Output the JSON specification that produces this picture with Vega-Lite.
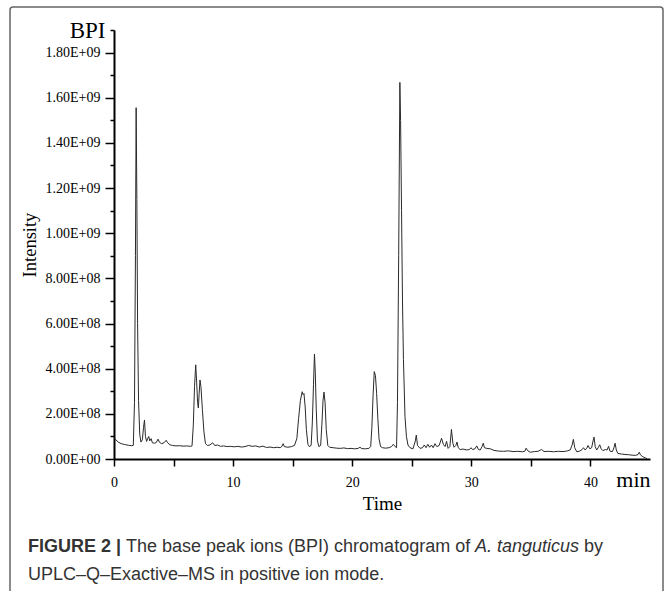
{
  "$schema": "https://vega.github.io/schema/vega-lite/v6.json",
  "width": 536,
  "height": 429,
  "autosize": {"type": "none"},
  "padding": {"left": 114, "top": 30, "right": 18, "bottom": 132},
  "background": "white",
  "config": {"view": {"stroke": null}},
  "layer": [
    {
      "data": {"values": [{}]},
      "mark": {"type": "rect", "fill": null, "stroke": "#666666", "strokeWidth": 1.5, "cornerRadius": 3},
      "encoding": {"x": {"value": -104}, "x2": {"value": 549}, "y": {"value": -23}, "y2": {"value": 640}}
    },
    {
      "data": {"values": [
        {"t":0.0,"i":0.95e8},{"t":0.15,"i":0.85e8},{"t":0.35,"i":0.75e8},{"t":0.6,"i":0.68e8},{"t":0.9,"i":0.64e8},
        {"t":1.2,"i":0.61e8},{"t":1.45,"i":0.59e8},{"t":1.62,"i":0.6e8},{"t":1.72,"i":2.5e8},{"t":1.8,"i":9.0e8},
        {"t":1.86,"i":15.56e8},{"t":1.92,"i":11.5e8},{"t":1.98,"i":6.0e8},{"t":2.06,"i":2.6e8},{"t":2.16,"i":1.1e8},
        {"t":2.26,"i":0.75e8},{"t":2.38,"i":0.85e8},{"t":2.48,"i":1.4e8},{"t":2.56,"i":1.73e8},{"t":2.64,"i":1.0e8},
        {"t":2.74,"i":0.78e8},{"t":2.84,"i":0.92e8},{"t":2.92,"i":1.0e8},{"t":3.0,"i":0.8e8},{"t":3.12,"i":0.9e8},
        {"t":3.22,"i":0.72e8},{"t":3.4,"i":0.7e8},{"t":3.55,"i":0.73e8},{"t":3.7,"i":0.88e8},{"t":3.82,"i":0.74e8},
        {"t":4.0,"i":0.68e8},{"t":4.2,"i":0.72e8},{"t":4.38,"i":0.83e8},{"t":4.5,"i":0.72e8},{"t":4.7,"i":0.63e8},
        {"t":4.9,"i":0.6e8},{"t":5.2,"i":0.58e8},{"t":5.5,"i":0.59e8},{"t":5.8,"i":0.57e8},{"t":6.1,"i":0.58e8},
        {"t":6.4,"i":0.56e8},{"t":6.55,"i":0.58e8},{"t":6.66,"i":1.5e8},{"t":6.76,"i":3.2e8},{"t":6.86,"i":4.17e8},
        {"t":6.94,"i":3.4e8},{"t":7.02,"i":2.5e8},{"t":7.08,"i":2.26e8},{"t":7.15,"i":2.9e8},{"t":7.22,"i":3.5e8},
        {"t":7.3,"i":3.2e8},{"t":7.42,"i":2.2e8},{"t":7.55,"i":1.2e8},{"t":7.68,"i":0.68e8},{"t":7.85,"i":0.6e8},
        {"t":8.05,"i":0.62e8},{"t":8.28,"i":0.72e8},{"t":8.45,"i":0.6e8},{"t":8.7,"i":0.62e8},{"t":8.95,"i":0.56e8},
        {"t":9.2,"i":0.58e8},{"t":9.5,"i":0.55e8},{"t":9.8,"i":0.56e8},{"t":10.1,"i":0.54e8},{"t":10.4,"i":0.56e8},
        {"t":10.7,"i":0.53e8},{"t":11.0,"i":0.55e8},{"t":11.3,"i":0.6e8},{"t":11.6,"i":0.56e8},{"t":11.9,"i":0.58e8},
        {"t":12.2,"i":0.53e8},{"t":12.5,"i":0.57e8},{"t":12.8,"i":0.51e8},{"t":13.1,"i":0.53e8},{"t":13.4,"i":0.5e8},
        {"t":13.7,"i":0.52e8},{"t":13.95,"i":0.5e8},{"t":14.1,"i":0.56e8},{"t":14.2,"i":0.68e8},{"t":14.3,"i":0.55e8},
        {"t":14.6,"i":0.52e8},{"t":14.9,"i":0.55e8},{"t":15.15,"i":0.6e8},{"t":15.35,"i":0.9e8},{"t":15.5,"i":1.8e8},
        {"t":15.65,"i":2.6e8},{"t":15.8,"i":2.98e8},{"t":15.88,"i":2.85e8},{"t":15.95,"i":2.9e8},{"t":16.05,"i":2.3e8},
        {"t":16.15,"i":1.3e8},{"t":16.28,"i":0.65e8},{"t":16.4,"i":0.55e8},{"t":16.55,"i":0.6e8},{"t":16.65,"i":1.6e8},
        {"t":16.75,"i":3.3e8},{"t":16.83,"i":4.65e8},{"t":16.9,"i":3.8e8},{"t":16.98,"i":2.2e8},{"t":17.08,"i":0.8e8},
        {"t":17.2,"i":0.55e8},{"t":17.35,"i":0.6e8},{"t":17.45,"i":1.5e8},{"t":17.55,"i":2.6e8},{"t":17.63,"i":2.96e8},
        {"t":17.72,"i":2.5e8},{"t":17.82,"i":1.3e8},{"t":17.95,"i":0.6e8},{"t":18.1,"i":0.52e8},{"t":18.4,"i":0.5e8},
        {"t":18.7,"i":0.48e8},{"t":19.0,"i":0.47e8},{"t":19.3,"i":0.49e8},{"t":19.6,"i":0.46e8},{"t":19.9,"i":0.47e8},
        {"t":20.2,"i":0.45e8},{"t":20.5,"i":0.47e8},{"t":20.65,"i":0.52e8},{"t":20.8,"i":0.46e8},{"t":21.1,"i":0.45e8},
        {"t":21.4,"i":0.47e8},{"t":21.55,"i":0.55e8},{"t":21.65,"i":1.4e8},{"t":21.75,"i":2.8e8},{"t":21.85,"i":3.87e8},
        {"t":21.95,"i":3.7e8},{"t":22.05,"i":2.9e8},{"t":22.15,"i":1.8e8},{"t":22.25,"i":0.9e8},{"t":22.38,"i":0.55e8},
        {"t":22.55,"i":0.5e8},{"t":22.8,"i":0.48e8},{"t":23.1,"i":0.5e8},{"t":23.3,"i":0.55e8},{"t":23.45,"i":0.65e8},
        {"t":23.6,"i":0.55e8},{"t":23.72,"i":0.5e8},{"t":23.8,"i":2.5e8},{"t":23.9,"i":9.0e8},{"t":24.0,"i":16.68e8},
        {"t":24.06,"i":15.0e8},{"t":24.14,"i":11.0e8},{"t":24.22,"i":7.0e8},{"t":24.3,"i":4.4e8},{"t":24.43,"i":1.87e8},
        {"t":24.55,"i":1.0e8},{"t":24.68,"i":0.62e8},{"t":24.85,"i":0.5e8},{"t":25.1,"i":0.45e8},{"t":25.3,"i":0.8e8},
        {"t":25.38,"i":1.06e8},{"t":25.48,"i":0.6e8},{"t":25.7,"i":0.47e8},{"t":25.9,"i":0.5e8},{"t":26.05,"i":0.62e8},
        {"t":26.2,"i":0.5e8},{"t":26.35,"i":0.65e8},{"t":26.5,"i":0.52e8},{"t":26.65,"i":0.62e8},{"t":26.8,"i":0.5e8},
        {"t":26.95,"i":0.68e8},{"t":27.1,"i":0.55e8},{"t":27.3,"i":0.6e8},{"t":27.5,"i":0.92e8},{"t":27.65,"i":0.65e8},
        {"t":27.8,"i":0.55e8},{"t":27.92,"i":0.78e8},{"t":28.05,"i":0.47e8},{"t":28.2,"i":0.55e8},{"t":28.33,"i":1.31e8},
        {"t":28.45,"i":0.7e8},{"t":28.55,"i":0.52e8},{"t":28.7,"i":0.6e8},{"t":28.8,"i":0.75e8},{"t":28.9,"i":0.5e8},
        {"t":29.06,"i":0.42e8},{"t":29.3,"i":0.44e8},{"t":29.6,"i":0.4e8},{"t":29.85,"i":0.42e8},{"t":29.97,"i":0.5e8},
        {"t":30.1,"i":0.42e8},{"t":30.3,"i":0.45e8},{"t":30.45,"i":0.58e8},{"t":30.6,"i":0.42e8},{"t":30.75,"i":0.4e8},
        {"t":30.9,"i":0.55e8},{"t":31.0,"i":0.7e8},{"t":31.1,"i":0.5e8},{"t":31.3,"i":0.47e8},{"t":31.6,"i":0.45e8},
        {"t":31.9,"i":0.38e8},{"t":32.3,"i":0.35e8},{"t":32.7,"i":0.34e8},{"t":33.1,"i":0.36e8},{"t":33.5,"i":0.33e8},
        {"t":33.9,"i":0.34e8},{"t":34.3,"i":0.32e8},{"t":34.5,"i":0.35e8},{"t":34.6,"i":0.48e8},{"t":34.75,"i":0.36e8},
        {"t":34.95,"i":0.3e8},{"t":35.3,"i":0.33e8},{"t":35.6,"i":0.34e8},{"t":35.9,"i":0.42e8},{"t":36.1,"i":0.33e8},
        {"t":36.5,"i":0.34e8},{"t":36.9,"i":0.32e8},{"t":37.3,"i":0.34e8},{"t":37.7,"i":0.33e8},{"t":38.0,"i":0.35e8},
        {"t":38.3,"i":0.4e8},{"t":38.45,"i":0.6e8},{"t":38.57,"i":0.87e8},{"t":38.68,"i":0.5e8},{"t":38.85,"i":0.32e8},
        {"t":39.1,"i":0.35e8},{"t":39.3,"i":0.42e8},{"t":39.42,"i":0.5e8},{"t":39.55,"i":0.4e8},{"t":39.7,"i":0.48e8},
        {"t":39.8,"i":0.6e8},{"t":39.95,"i":0.45e8},{"t":40.1,"i":0.5e8},{"t":40.22,"i":0.8e8},{"t":40.3,"i":0.97e8},
        {"t":40.4,"i":0.55e8},{"t":40.52,"i":0.4e8},{"t":40.65,"i":0.5e8},{"t":40.78,"i":0.63e8},{"t":40.9,"i":0.45e8},
        {"t":41.05,"i":0.37e8},{"t":41.25,"i":0.42e8},{"t":41.4,"i":0.4e8},{"t":41.52,"i":0.56e8},{"t":41.65,"i":0.34e8},
        {"t":41.85,"i":0.33e8},{"t":41.97,"i":0.5e8},{"t":42.07,"i":0.7e8},{"t":42.17,"i":0.4e8},{"t":42.3,"i":0.25e8},
        {"t":42.6,"i":0.22e8},{"t":42.9,"i":0.2e8},{"t":43.2,"i":0.19e8},{"t":43.5,"i":0.17e8},{"t":43.8,"i":0.16e8},
        {"t":44.0,"i":0.2e8},{"t":44.1,"i":0.3e8},{"t":44.2,"i":0.18e8},{"t":44.4,"i":0.1e8},{"t":44.6,"i":0.05e8},
        {"t":44.75,"i":0.02e8}
      ]},
      "mark": {"type": "line", "color": "#2a2a2a", "strokeWidth": 1, "interpolate": "linear"},
      "encoding": {
        "x": {
          "field": "t", "type": "quantitative",
          "scale": {"domain": [0, 45], "nice": false, "zero": false},
          "axis": {
            "values": [0, 5, 10, 15, 20, 25, 30, 35, 40, 45],
            "labelExpr": "datum.value == 45 ? 'min' : (datum.value % 10 == 0 ? datum.label : '')",
            "labelFont": "Liberation Serif",
            "labelFontSize": {"condition": {"test": "datum.value == 45", "value": 22}, "value": 14},
            "labelAlign": {"condition": {"test": "datum.value == 45", "value": "right"}, "value": "center"},
            "labelBaseline": "alphabetic",
            "labelColor": "black",
            "labelPadding": 20,
            "labelFlush": false,
            "labelOverlap": false,
            "tickSize": 7,
            "tickWidth": 1.5,
            "tickColor": "black",
            "tickOpacity": {"condition": {"test": "datum.value == 45", "value": 0}, "value": 1},
            "domainColor": "black",
            "domainWidth": 2,
            "grid": false,
            "title": "Time",
            "titleFont": "Liberation Serif",
            "titleFontSize": 19,
            "titleFontWeight": "normal",
            "titleColor": "black",
            "titleBaseline": "alphabetic",
            "titleY": 50
          }
        },
        "y": {
          "field": "i", "type": "quantitative",
          "scale": {"domain": [0, 1900000000], "nice": false},
          "axis": {
            "values": [0, 100000000, 200000000, 300000000, 400000000, 500000000, 600000000, 700000000, 800000000, 900000000, 1000000000, 1100000000, 1200000000, 1300000000, 1400000000, 1500000000, 1600000000, 1700000000, 1800000000, 1900000000],
            "labelExpr": "datum.value > 1850000000 ? 'BPI' : (round(datum.value / 100000000) % 2 == 0 ? replace(format(datum.value, '.2e'), 'e+', 'E+0') : '')",
            "labelFont": "Liberation Serif",
            "labelFontSize": {"condition": {"test": "datum.value > 1850000000", "value": 23}, "value": 14},
            "labelColor": "black",
            "labelPadding": 5,
            "labelFlush": false,
            "labelOverlap": false,
            "tickSize": {"condition": {"test": "round(datum.value / 100000000) % 2 == 0", "value": 9}, "value": 4},
            "tickWidth": 1.5,
            "tickColor": "black",
            "domainColor": "black",
            "domainWidth": 2,
            "grid": false,
            "title": "Intensity",
            "titleFont": "Liberation Serif",
            "titleFontSize": 18.5,
            "titleFontWeight": "normal",
            "titleColor": "black",
            "titleAngle": -90,
            "titleAlign": "center",
            "titleBaseline": "middle",
            "titleX": -85,
            "titleY": 214.5
          }
        }
      }
    },
    {
      "data": {"values": [{}]},
      "mark": {"type": "text", "text": "FIGURE 2 |", "font": "Liberation Sans", "fontSize": 18, "fontWeight": "bold", "color": "#333333", "align": "left", "baseline": "alphabetic"},
      "encoding": {"x": {"value": -86}, "y": {"value": 522}}
    },
    {
      "data": {"values": [{}]},
      "mark": {"type": "text", "text": "The base peak ions (BPI) chromatogram of", "font": "Liberation Sans", "fontSize": 18, "color": "#333333", "align": "left", "baseline": "alphabetic"},
      "encoding": {"x": {"value": 12}, "y": {"value": 522}}
    },
    {
      "data": {"values": [{}]},
      "mark": {"type": "text", "text": "A. tanguticus", "font": "Liberation Sans", "fontSize": 18, "fontStyle": "italic", "color": "#333333", "align": "left", "baseline": "alphabetic"},
      "encoding": {"x": {"value": 361}, "y": {"value": 522}}
    },
    {
      "data": {"values": [{}]},
      "mark": {"type": "text", "text": "by", "font": "Liberation Sans", "fontSize": 18, "color": "#333333", "align": "left", "baseline": "alphabetic"},
      "encoding": {"x": {"value": 470}, "y": {"value": 522}}
    },
    {
      "data": {"values": [{}]},
      "mark": {"type": "text", "text": "UPLC–Q–Exactive–MS in positive ion mode.", "font": "Liberation Sans", "fontSize": 18, "color": "#333333", "align": "left", "baseline": "alphabetic"},
      "encoding": {"x": {"value": -86}, "y": {"value": 550}}
    }
  ]
}
